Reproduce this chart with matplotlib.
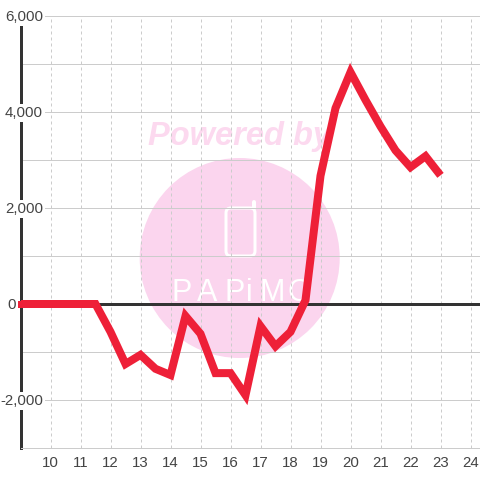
"""Hourly balance line over the Papimo watermark"""
import matplotlib
matplotlib.use("Agg")
import matplotlib.pyplot as plt
from matplotlib.patches import Circle, FancyBboxPatch

plt.rcParams['font.family'] = ['Liberation Sans', 'DejaVu Sans']

hours = [9, 9.5, 10, 10.5, 11, 11.5, 12, 12.5, 13, 13.5, 14, 14.5, 15, 15.5, 16,
         16.5, 17, 17.5, 18, 18.5, 19, 19.5, 20, 20.5, 21, 21.5, 22, 22.5, 23]
values = [0, 0, 0, 0, 0, 0, -580, -1250, -1060, -1350, -1480, -250, -620, -1440, -1440,
          -1900, -460, -880, -580, 80, 2670, 4080, 4830, 4250, 3700, 3200, 2850, 3080, 2680]
x_ticks = list(range(10, 25))
y_grid = list(range(-3000, 7000, 1000))
y_labels = {6000: "6,000", 4000: "4,000", 2000: "2,000", 0: "0", -2000: "-2,000"}

PX = 0.72  # one pixel in points at dpi 100
PINK = "#fbd5ee"
TEXT = "#444444"

fig = plt.figure(figsize=(4.8, 4.8), dpi=100)

# watermark goes behind the chart, in pixel coords
bg = fig.add_axes([0, 0, 1, 1], zorder=0)
bg.set_xlim(0, 480)
bg.set_ylim(480, 0)
bg.axis("off")
bg.add_patch(Circle((239.7, 258), 100, facecolor=PINK, edgecolor="none"))
bg.text(148, 145, "Powered by", fontsize=23.5, fontweight="bold", fontstyle="italic",
        color="#fcd9ef", ha="left", va="baseline")
bg.add_patch(FancyBboxPatch((226, 208), 29, 48, boxstyle="round,pad=0,rounding_size=5",
                            facecolor="none", edgecolor="white", linewidth=3 * PX))
bg.plot([254, 254], [208, 202], color="white", linewidth=4 * PX, solid_capstyle="round")
logo_letters = ["P", "A", "P", "i", "M", "O"]
logo_pos = [182, 207, 235, 249, 272, 299]
for letter, pos in zip(logo_letters, logo_pos):
    bg.text(pos, 301, letter, fontsize=22, color="white", ha="center", va="baseline")

ax = fig.add_axes([20.5 / 480, 32 / 480, 459.5 / 480, 432 / 480], zorder=1)
ax.set_facecolor("none")
ax.set_xlim(9, 9 + 459.5 / 30)
ax.set_ylim(-3000, 6000)

ax.set_xticks(x_ticks)
ax.set_yticks(y_grid)
ax.set_yticklabels([])
ax.tick_params(axis="both", length=0, colors=TEXT, labelsize=10.8)
ax.tick_params(axis="x", pad=6)
ax.grid(axis="y", color="#cccccc", linewidth=PX, linestyle="-")
ax.grid(axis="x", color="#cccccc", linewidth=PX, linestyle=(0, (3, 3)))
ax.set_axisbelow(True)

for side in ["top", "right"]:
    ax.spines[side].set_visible(False)
ax.spines["bottom"].set_color("#cccccc")
ax.spines["bottom"].set_linewidth(PX)
ax.spines["left"].set_color("#333333")
ax.spines["left"].set_linewidth(3 * PX)
ax.plot([0, 1], [6000, 6000], transform=ax.get_yaxis_transform(), color="#cccccc",
        linewidth=PX, clip_on=False, zorder=1)

ax.axhline(0, color="#333333", linewidth=3 * PX, zorder=2)
ax.plot(hours, values, color="#ee2038", linewidth=8 * PX, solid_capstyle="butt",
        solid_joinstyle="miter", zorder=3)
# line starts a bit left of the axis
ax.plot(hours[:1], values[:1], marker="s", markersize=7 * PX, color="#ee2038",
        markeredgewidth=0, clip_on=False, zorder=3)

# y labels sit on top of the axis with a white box behind them
for val, lab in y_labels.items():
    right = -0.0098 if val == 0 else 0.049
    ax.annotate(lab, (right, val), xycoords=ax.get_yaxis_transform(),
                xytext=(0, -0.8), textcoords="offset points", ha="right", va="center",
                fontsize=10.8, color=TEXT, zorder=2.6,
                bbox=dict(facecolor="white", edgecolor="none", pad=1.2))

fig.savefig("out.png", dpi=100)
